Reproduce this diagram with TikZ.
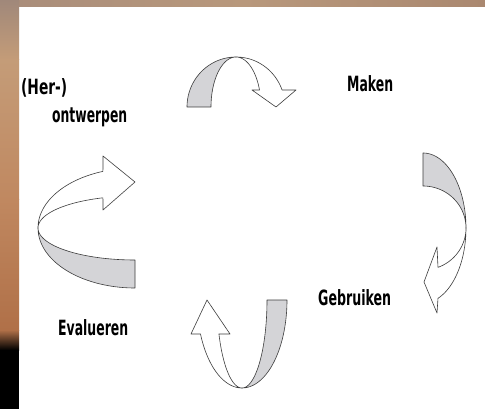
\documentclass[tikz,border=0pt]{standalone}
\usepackage{fontspec}
\usepackage{graphicx}
\setmainfont{DejaVu Sans}
\definecolor{bandgray}{RGB}{212,212,215}
\definecolor{edgecol}{RGB}{60,60,60}
\definecolor{stripL}{RGB}{168,140,122}
\definecolor{stripM}{RGB}{184,152,124}
\definecolor{stripR}{RGB}{170,136,112}
\definecolor{sideA}{RGB}{160,136,122}
\definecolor{sideB}{RGB}{196,156,120}
\definecolor{sideC}{RGB}{192,136,96}
\definecolor{sideD}{RGB}{176,112,72}
\newcommand{\wfit}[2]{\resizebox{#1}{\height}{#2}}
\begin{document}
\begin{tikzpicture}[x=1pt,y=-1pt,
  ribbon/.style={draw=edgecol, line width=0.6pt, line join=round},
  backband/.style={ribbon, fill=bandgray},
  frontband/.style={ribbon, fill=white},
  lbl/.style={inner sep=0pt, anchor=base west, font=\fontsize{21}{25}\selectfont\bfseries}]
\useasboundingbox (0,0) rectangle (485,409);
% background
\fill[white] (0,0) rectangle (485,409);
\shade[left color=stripL, right color=stripR, middle color=stripM] (0,0) rectangle (485,7);
\shade[top color=sideA, bottom color=sideB] (0,0) rectangle (19,60);
\shade[top color=sideB, bottom color=sideC] (0,60) rectangle (19,200);
\shade[top color=sideC, bottom color=sideD] (0,200) rectangle (19,330);
\shade[top color=sideD, bottom color=black] (0,330) rectangle (19,350);
\fill[black] (0,350) rectangle (19,409);

% labels
\node[lbl] (her) at (21,95) {\wfit{46pt}{(Her-)}};
\node[lbl] (ontw) at (52,123) {\wfit{75pt}{ontwerpen}};
\node[lbl] (maken) at (347,92) {\wfit{46pt}{Maken}};
\node[lbl] (gebr) at (318,305) {\wfit{73pt}{Gebruiken}};
\node[lbl] (eval) at (58,335) {\wfit{70pt}{Evalueren}};

% top arrow (centre 236,107)
\filldraw[backband] plot[domain=180:270, samples=40] ({236+49*cos(\x)},{107+50*sin(\x)})
  -- plot[domain=270:180, samples=40] ({236+25*cos(\x)},{107+50*sin(\x)}) -- cycle;
\filldraw[frontband] plot[domain=270:340.1, samples=40] ({236+25*cos(\x)},{107+50*sin(\x)})
  -- (252,90) -- (276,107) -- (296,90)
  -- plot[domain=340.1:270, samples=40] ({236+49*cos(\x)},{107+50*sin(\x)}) -- cycle;

% right arrow (centre 423,228)
\filldraw[backband] plot[domain=270:360, samples=40] ({423+43*cos(\x)},{228+75*sin(\x)})
  -- plot[domain=360:270, samples=40] ({423+43*cos(\x)},{228+42*sin(\x)}) -- cycle;
\filldraw[frontband] plot[domain=0:69.6, samples=40] ({423+43*cos(\x)},{228+42*sin(\x)})
  -- (437,247) -- (424,282) -- (437,313)
  -- plot[domain=69.6:0, samples=40] ({423+43*cos(\x)},{228+75*sin(\x)}) -- cycle;

% bottom arrow (centre 242,300)
\filldraw[backband] plot[domain=0:90, samples=40] ({242+45*cos(\x)},{300+88*sin(\x)})
  -- plot[domain=90:0, samples=40] ({242+25*cos(\x)},{300+88*sin(\x)}) -- cycle;
\filldraw[frontband] plot[domain=90:157.3, samples=40] ({242+25*cos(\x)},{300+88*sin(\x)})
  -- (230,334) -- (207,300) -- (191,334)
  -- plot[domain=157.3:90, samples=40] ({242+45*cos(\x)},{300+88*sin(\x)}) -- cycle;

% left arrow (centre 135,228)
\filldraw[backband] plot[domain=90:180, samples=40] ({135+97*cos(\x)},{228+60*sin(\x)})
  -- plot[domain=180:90, samples=40] ({135+97*cos(\x)},{228+32*sin(\x)}) -- cycle;
\filldraw[frontband] plot[domain=180:250.7, samples=40] ({135+97*cos(\x)},{228+32*sin(\x)})
  -- (103,210) -- (135,182) -- (103,156)
  -- plot[domain=250.7:180, samples=40] ({135+97*cos(\x)},{228+60*sin(\x)}) -- cycle;
\end{tikzpicture}
\end{document}
